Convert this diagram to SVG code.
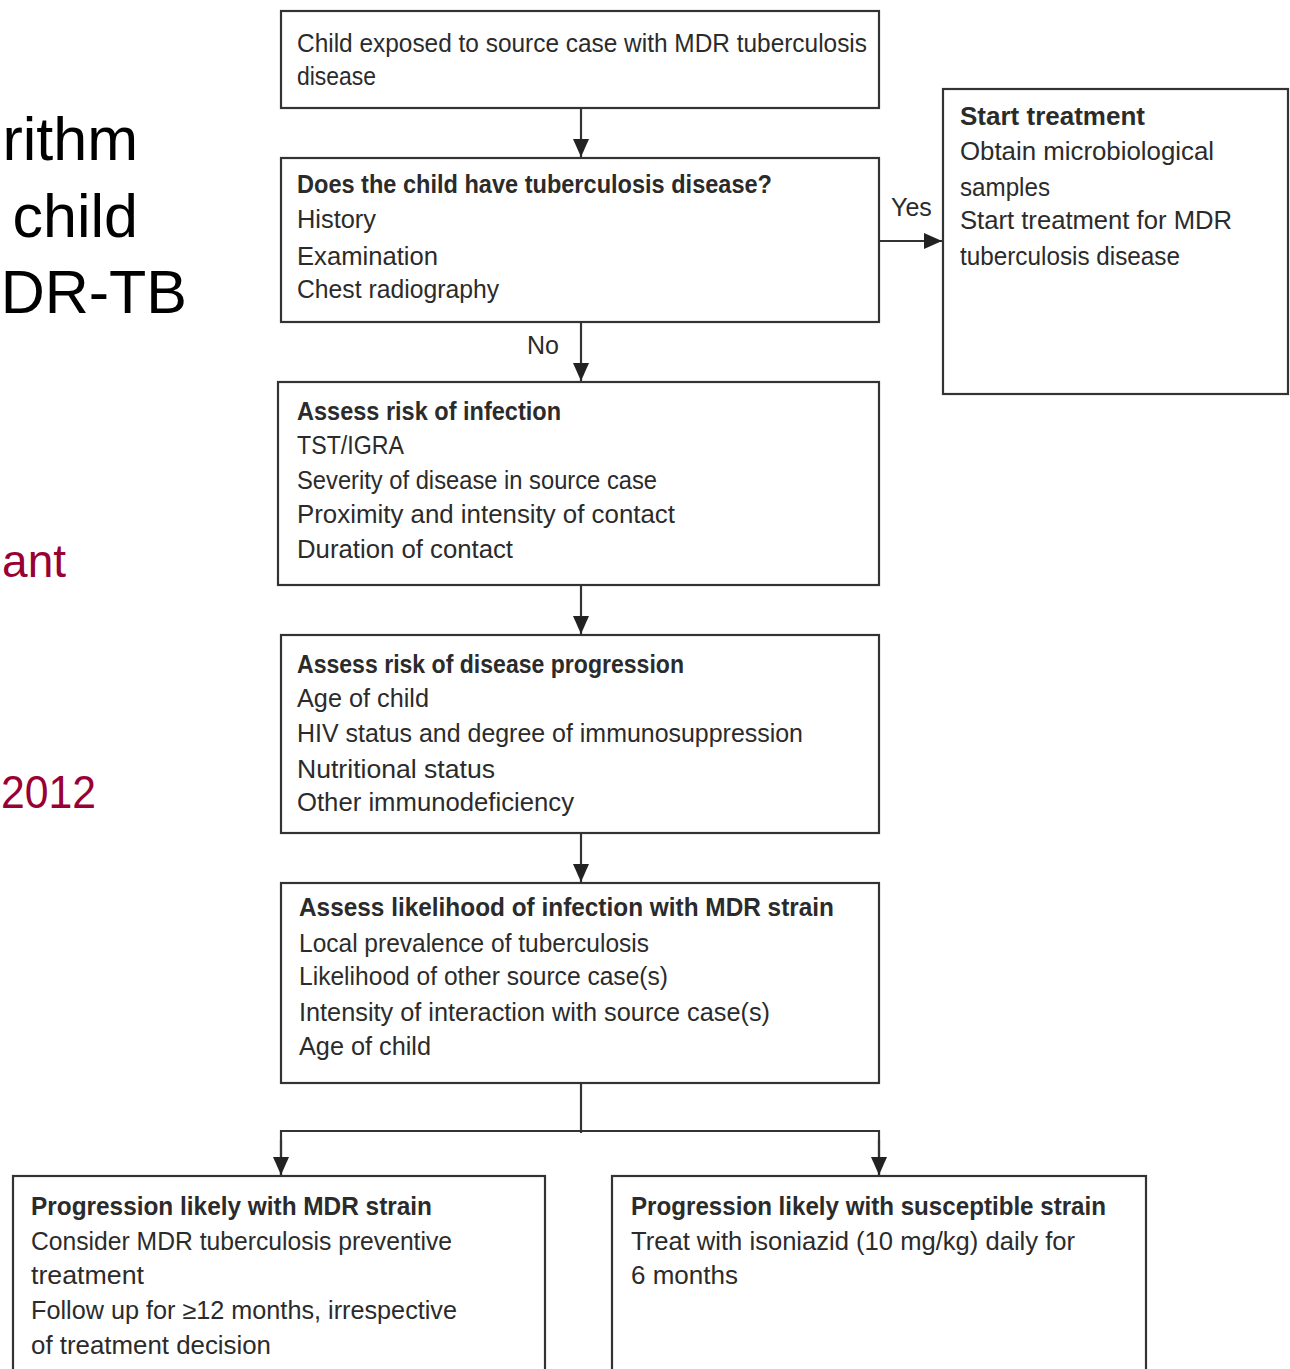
<svg xmlns="http://www.w3.org/2000/svg" width="1290" height="1369" viewBox="0 0 1290 1369">
<style>
.box{fill:#fff;stroke:#333;stroke-width:2.2}
.t{font-family:"Liberation Sans",Arial,sans-serif;font-size:25px;fill:#2b2b2b}
.b{font-weight:bold}
.slide{font-family:"Liberation Sans",Arial,sans-serif;font-size:61px;fill:#000}
.red{font-family:"Liberation Sans",Arial,sans-serif;font-size:46px;fill:#990033}
.c{fill:none;stroke:#333;stroke-width:2.2}
</style>
<defs>
<marker id="ah" markerUnits="userSpaceOnUse" markerWidth="18" markerHeight="22" refX="18" refY="8" orient="auto">
<path d="M0,0 L18,8 L0,16 z" fill="#222"/>
</marker>
</defs>
<rect width="1290" height="1369" fill="#fff"/>
<g id="slide-text">
<text class="slide" x="138" y="160" text-anchor="end">rithm</text>
<text class="slide" x="138" y="237" text-anchor="end">child</text>
<text class="slide" x="187" y="313" text-anchor="end">DR-TB</text>
<text class="red" x="66" y="577" text-anchor="end">ant</text>
<text class="red" x="1" y="808" textLength="95" lengthAdjust="spacingAndGlyphs">2012</text>
</g>
<g id="connectors">
<line class="c" x1="581" y1="108" x2="581" y2="157" marker-end="url(#ah)"/>
<line class="c" x1="581" y1="322" x2="581" y2="381" marker-end="url(#ah)"/>
<line class="c" x1="581" y1="585" x2="581" y2="634" marker-end="url(#ah)"/>
<line class="c" x1="581" y1="833" x2="581" y2="882" marker-end="url(#ah)"/>
<line class="c" x1="879" y1="241" x2="942" y2="241" marker-end="url(#ah)"/>
<line class="c" x1="581" y1="1083" x2="581" y2="1133"/>
<polyline class="c" points="281,1175 281,1131 879,1131 879,1175"/>
<line class="c" x1="281" y1="1140" x2="281" y2="1175" marker-end="url(#ah)"/>
<line class="c" x1="879" y1="1140" x2="879" y2="1175" marker-end="url(#ah)"/>
<text class="t" x="527" y="354">No</text>
<text class="t" x="891" y="216">Yes</text>
</g>
<g id="n1">
<rect class="box" x="281" y="11" width="598" height="97"/>
<text class="t" x="297" y="52" textLength="570" lengthAdjust="spacingAndGlyphs">Child exposed to source case with MDR tuberculosis</text>
<text class="t" x="297" y="85" textLength="79" lengthAdjust="spacingAndGlyphs">disease</text>
</g>
<g id="n2">
<rect class="box" x="281" y="158" width="598" height="164"/>
<text class="t b" x="297" y="193" textLength="475" lengthAdjust="spacingAndGlyphs">Does the child have tuberculosis disease?</text>
<text class="t" x="297" y="228" textLength="79" lengthAdjust="spacingAndGlyphs">History</text>
<text class="t" x="297" y="265" textLength="141" lengthAdjust="spacingAndGlyphs">Examination</text>
<text class="t" x="297" y="298" textLength="202" lengthAdjust="spacingAndGlyphs">Chest radiography</text>
</g>
<g id="n3">
<rect class="box" x="943" y="89" width="345" height="305"/>
<text class="t b" x="960" y="125" textLength="185" lengthAdjust="spacingAndGlyphs">Start treatment</text>
<text class="t" x="960" y="160" textLength="254" lengthAdjust="spacingAndGlyphs">Obtain microbiological</text>
<text class="t" x="960" y="196" textLength="90" lengthAdjust="spacingAndGlyphs">samples</text>
<text class="t" x="960" y="229" textLength="272" lengthAdjust="spacingAndGlyphs">Start treatment for MDR</text>
<text class="t" x="960" y="265" textLength="220" lengthAdjust="spacingAndGlyphs">tuberculosis disease</text>
</g>
<g id="n4">
<rect class="box" x="278" y="382" width="601" height="203"/>
<text class="t b" x="297" y="420" textLength="264" lengthAdjust="spacingAndGlyphs">Assess risk of infection</text>
<text class="t" x="297" y="454" textLength="107" lengthAdjust="spacingAndGlyphs">TST/IGRA</text>
<text class="t" x="297" y="489" textLength="360" lengthAdjust="spacingAndGlyphs">Severity of disease in source case</text>
<text class="t" x="297" y="523" textLength="378" lengthAdjust="spacingAndGlyphs">Proximity and intensity of contact</text>
<text class="t" x="297" y="558" textLength="216" lengthAdjust="spacingAndGlyphs">Duration of contact</text>
</g>
<g id="n5">
<rect class="box" x="281" y="635" width="598" height="198"/>
<text class="t b" x="297" y="673" textLength="387" lengthAdjust="spacingAndGlyphs">Assess risk of disease progression</text>
<text class="t" x="297" y="707" textLength="132" lengthAdjust="spacingAndGlyphs">Age of child</text>
<text class="t" x="297" y="742" textLength="506" lengthAdjust="spacingAndGlyphs">HIV status and degree of immunosuppression</text>
<text class="t" x="297" y="778" textLength="198" lengthAdjust="spacingAndGlyphs">Nutritional status</text>
<text class="t" x="297" y="811" textLength="277" lengthAdjust="spacingAndGlyphs">Other immunodeficiency</text>
</g>
<g id="n6">
<rect class="box" x="281" y="883" width="598" height="200"/>
<text class="t b" x="299" y="916" textLength="535" lengthAdjust="spacingAndGlyphs">Assess likelihood of infection with MDR strain</text>
<text class="t" x="299" y="952" textLength="350" lengthAdjust="spacingAndGlyphs">Local prevalence of tuberculosis</text>
<text class="t" x="299" y="985" textLength="369" lengthAdjust="spacingAndGlyphs">Likelihood of other source case(s)</text>
<text class="t" x="299" y="1021" textLength="471" lengthAdjust="spacingAndGlyphs">Intensity of interaction with source case(s)</text>
<text class="t" x="299" y="1055" textLength="132" lengthAdjust="spacingAndGlyphs">Age of child</text>
</g>
<g id="n7">
<rect class="box" x="13" y="1176" width="532" height="220"/>
<text class="t b" x="31" y="1215" textLength="401" lengthAdjust="spacingAndGlyphs">Progression likely with MDR strain</text>
<text class="t" x="31" y="1250" textLength="421" lengthAdjust="spacingAndGlyphs">Consider MDR tuberculosis preventive</text>
<text class="t" x="31" y="1284" textLength="113" lengthAdjust="spacingAndGlyphs">treatment</text>
<text class="t" x="31" y="1319" textLength="426" lengthAdjust="spacingAndGlyphs">Follow up for ≥12 months, irrespective</text>
<text class="t" x="31" y="1354" textLength="240" lengthAdjust="spacingAndGlyphs">of treatment decision</text>
</g>
<g id="n8">
<rect class="box" x="612" y="1176" width="534" height="220"/>
<text class="t b" x="631" y="1215" textLength="475" lengthAdjust="spacingAndGlyphs">Progression likely with susceptible strain</text>
<text class="t" x="631" y="1250" textLength="444" lengthAdjust="spacingAndGlyphs">Treat with isoniazid (10 mg/kg) daily for</text>
<text class="t" x="631" y="1284" textLength="107" lengthAdjust="spacingAndGlyphs">6 months</text>
</g>
</svg>
